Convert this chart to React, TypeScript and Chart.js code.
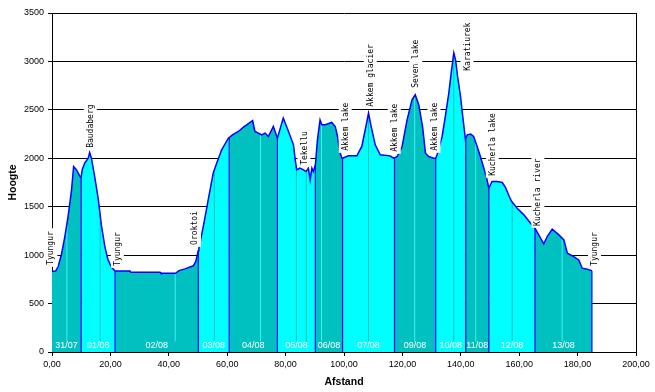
import React, { useEffect, useRef } from 'react';
import { Chart, registerables } from 'chart.js';

Chart.register(...registerables);

// Elevation profile (distance in km, height in m)
const distances = [
  0, 1.3, 2.1, 3.2, 4.4, 5.5, 6.7, 7.4, 8.4, 9.7,
  10.0, 10.4, 11.2, 12.4, 12.9, 13.5, 14.6, 15.8, 16.9, 18.1, 19.2, 20.4,
  21.6, 26.7, 27.0, 37.0, 37.3, 42.3, 43.5, 45.5, 48.4, 49.2, 49.9,
  50.1, 50.3, 51.8, 53.5, 55.2, 56.4, 58.1, 60.4,
  60.7, 61.8, 63.8, 65.9, 66.7, 68.7, 69.5, 70.7, 71.8, 73.0, 74.1, 75.8, 76.4,
  77.2, 79.2, 81.0, 82.7, 83.3, 83.8, 84.9, 86.1, 87.0, 87.8, 88.4, 89.0, 89.5,
  90.2, 90.9, 91.8, 92.4, 93.6, 95.8, 97.0, 97.8, 98.5, 99.3,
  99.5, 101.5, 104.4, 106.1, 107.5, 108.4, 109.3, 110.7, 112.4, 115.8, 117.0,
  117.3, 118.2, 119.9, 121.6, 123.3, 124.4, 125.6, 126.9, 127.9, 129.0, 130.7,
  131.4, 131.9, 133.6, 134.7, 135.9, 136.7, 137.6, 138.2, 138.9, 139.9, 140.8, 141.6,
  141.7, 142.2, 143.4, 144.4, 145.6, 146.7, 147.9, 149.0,
  149.6, 150.7, 152.5, 154.2, 155.3, 156.6, 157.3, 159.3, 161.6, 163.9,
  165.4, 166.7, 168.4, 169.6, 171.3, 173.6, 175.3, 176.5, 178.7, 180.4, 181.6, 183.3, 184.9,
];
const elevations = [
  830, 837, 882, 1002, 1192, 1398, 1674, 1915, 1881, 1805,
  1812, 1888, 1950, 2001, 2060, 2001, 1812, 1588, 1312, 1088, 951, 875,
  837, 837, 823, 823, 813, 813, 840, 858, 890, 933, 1020,
  1045, 1071, 1295, 1571, 1847, 1950, 2087, 2208,
  2215, 2242, 2277, 2330, 2346, 2390, 2277, 2260, 2242, 2260, 2225, 2328, 2277,
  2208, 2415, 2277, 2139, 1984, 1881, 1898, 1881, 1863, 1898, 1777, 1898, 1863,
  1932, 2191, 2397, 2346, 2346, 2370, 2328, 2225, 2070, 2001,
  2001, 2025, 2025, 2122, 2328, 2467, 2328, 2139, 2036, 2025, 2001,
  2005, 2018, 2122, 2397, 2604, 2656, 2553, 2328, 2053, 2018, 2001,
  2001, 2036, 2225, 2432, 2673, 2880, 3087, 3017, 2845, 2638, 2397, 2191,
  2191, 2242, 2250, 2225, 2122, 2018, 1898, 1777,
  1691, 1760, 1760, 1750, 1700, 1605, 1560, 1485, 1416, 1330,
  1278, 1209, 1116, 1192, 1268, 1209, 1157, 1020, 985, 951, 865, 854, 840,
];

// Day stages
const dayBoundaries = [0, 10.0, 21.6, 50.1, 60.7, 77.2, 90.2, 99.5, 117.3, 131.4, 141.7, 149.6, 165.4, 184.9];
const dayLabels = ['31/07', '01/08', '02/08', '03/08', '04/08', '05/08', '06/08', '07/08', '09/08', '10/08', '11/08', '12/08', '13/08'];
const stopMarks = [5.1, 16.5, 42.2, 55.6, 71.4, 83.7, 87.1, 92.3, 108.4, 124.2, 137.6, 145.1, 157.6, 174.7];

// Place names (anchor at start of vertical text)
const placeNames = ['Tyungur', 'Baudaberg', 'Tyungur', 'Oroktoi', 'Tekellu', 'Akkem lake', 'Akkem glacier', 'Akkem lake', 'Seven lake', 'Akkem lake', 'Karatiurek', 'Kucherla lake', 'Kucherla river', 'Tyungur'];
const placeX = [-0.4, 13.1, 22.4, 48.8, 86.3, 100.4, 109.0, 117.2, 124.6, 130.8, 142.1, 150.8, 166.4, 185.8];
const placeY = [899, 2108, 889, 1106, 1932, 2077, 2532, 2067, 2728, 2077, 2904, 1819, 1302, 889];

const TEAL = '#00C0C0';
const CYAN = '#00FFFF';
const BLUE = '#0000FF';

function elevAt(x: number): number {
  for (let i = 0; i < distances.length - 1; i++) {
    if (x >= distances[i] && x <= distances[i + 1]) {
      const t = (x - distances[i]) / (distances[i + 1] - distances[i] || 1);
      return elevations[i] + t * (elevations[i + 1] - elevations[i]);
    }
  }
  return elevations[elevations.length - 1];
}

function dayIndexAt(x: number): number {
  for (let i = 0; i < dayBoundaries.length - 1; i++) {
    if (x >= dayBoundaries[i] && x <= dayBoundaries[i + 1]) return i;
  }
  return 0;
}

const labelsPlugin = {
  id: 'placeLabels',
  afterDatasetsDraw(chart: any) {
    const { ctx, scales } = chart;
    const xs = scales.x;
    const ys = scales.y;
    ctx.save();
    ctx.font = '8px "DejaVu Sans Mono"';
    placeNames.forEach((name, i) => {
      const px = xs.getPixelForValue(placeX[i]);
      const py = ys.getPixelForValue(placeY[i]);
      const w = ctx.measureText(name).width;
      ctx.fillStyle = '#FFFFFF';
      ctx.fillRect(px - 6.5, py - w - 3, 13, w + 5);
      ctx.save();
      ctx.translate(px, py);
      ctx.rotate(-Math.PI / 2);
      ctx.fillStyle = '#000000';
      ctx.textAlign = 'left';
      ctx.textBaseline = 'middle';
      ctx.fillText(name, 0, 0.5);
      ctx.restore();
    });
    ctx.font = '9px "Liberation Sans"';
    ctx.fillStyle = '#FFFFFF';
    ctx.textAlign = 'center';
    ctx.textBaseline = 'middle';
    dayLabels.forEach((lab, i) => {
      const mid = (dayBoundaries[i] + dayBoundaries[i + 1]) / 2;
      const px = xs.getPixelForValue(mid);
      const py = ys.getPixelForValue(65);
      ctx.fillText(lab, px, py);
    });
    ctx.restore();
  },
};

export default function App() {
  const ref = useRef<HTMLCanvasElement>(null);
  useEffect(() => {
    document.body.style.margin = '0';
    const points = distances.map((d, k) => ({ x: d, y: elevations[k] }));
    const datasets: any[] = [];
    // filled day areas
    for (let i = 0; i < dayBoundaries.length - 1; i++) {
      const a = dayBoundaries[i];
      const b = dayBoundaries[i + 1];
      datasets.push({
        type: 'line',
        data: points.filter((p) => p.x >= a - 1e-9 && p.x <= b + 1e-9),
        fill: 'origin',
        backgroundColor: i % 2 === 0 ? TEAL : CYAN,
        borderWidth: 0,
        borderColor: 'rgba(0,0,0,0)',
        pointRadius: 0,
        order: 4,
      });
    }
    // stop marks inside days
    stopMarks.forEach((s) => {
      const di = dayIndexAt(s);
      datasets.push({
        type: 'line',
        data: [{ x: s, y: 110 }, { x: s, y: elevAt(s) }],
        fill: false,
        borderColor: di % 2 === 0 ? '#40F0F0' : '#00C4C4',
        borderWidth: 1,
        pointRadius: 0,
        order: 3,
      });
    });
    // day boundary lines
    dayBoundaries.slice(1).forEach((b) => {
      datasets.push({
        type: 'line',
        data: [{ x: b, y: 0 }, { x: b, y: elevAt(b) }],
        fill: false,
        borderColor: BLUE,
        borderWidth: 1.2,
        pointRadius: 0,
        order: 2,
      });
    });
    // profile line
    datasets.push({
      type: 'line',
      data: points,
      fill: false,
      borderColor: BLUE,
      borderWidth: 1.5,
      pointRadius: 0,
      order: 1,
    });

    const chart = new Chart(ref.current as HTMLCanvasElement, {
      type: 'line',
      data: { datasets },
      options: {
        animation: false,
        responsive: false,
        parsing: false as any,
        layout: { padding: { left: 0, top: 13, right: 19, bottom: 0 } },
        plugins: { legend: { display: false }, tooltip: { enabled: false } },
        elements: { line: { tension: 0 } },
        scales: {
          x: {
            type: 'linear',
            min: 0,
            max: 200,
            afterFit: (s: any) => { s.height = 40; },
            ticks: {
              stepSize: 20,
              color: '#000',
              padding: 3,
              maxRotation: 0,
              font: { family: 'Liberation Sans', size: 9 },
              callback: (v: any) => Number(v).toFixed(2).replace('.', ','),
            },
            grid: {
              color: (c: any) => (c.tick && c.tick.value === 200 ? '#000' : 'rgba(0,0,0,0)'),
              tickColor: '#000',
              tickLength: 4,
              lineWidth: 1,
            },
            border: { color: '#000', width: 1 },
            title: {
              display: true,
              text: 'Afstand',
              color: '#000',
              font: { family: 'Liberation Sans', size: 10.5, weight: 'bold' },
              padding: { top: 0, bottom: 4 },
            },
          },
          y: {
            type: 'linear',
            min: 0,
            max: 3500,
            afterFit: (s: any) => { s.width = 52; },
            ticks: {
              stepSize: 500,
              color: '#000',
              padding: 4,
              font: { family: 'Liberation Sans', size: 9 },
              callback: (v: any) => String(v),
            },
            grid: { color: '#000', tickColor: '#000', tickLength: 4, lineWidth: 1 },
            border: { color: '#000', width: 1 },
            title: {
              display: true,
              text: 'Hoogte',
              color: '#000',
              font: { family: 'Liberation Sans', size: 10.5, weight: 'bold' },
              padding: { top: 7, bottom: 0 },
            },
          },
        },
      },
      plugins: [labelsPlugin],
    } as any);
    return () => chart.destroy();
  }, []);
  return (
    <div style={{ width: 655, height: 392 }}>
      <canvas ref={ref} width={655} height={392} style={{ display: 'block', width: 655, height: 392 }} />
    </div>
  );
}
